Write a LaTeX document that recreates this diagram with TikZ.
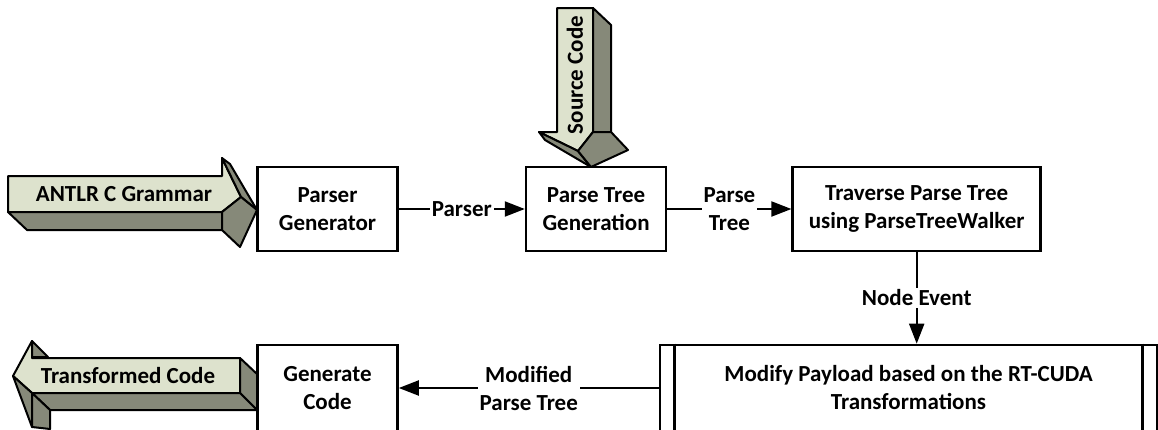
\documentclass[tikz,border=0pt]{standalone}
\usepackage{fontspec}
\setmainfont{Carlito}
\usetikzlibrary{arrows.meta,positioning}
\definecolor{sage}{RGB}{221,226,205}
\definecolor{slate}{RGB}{134,137,121}

\begin{document}
\begin{tikzpicture}[x=0.5pt, y=-0.5pt,
  font=\fontsize{11.5}{14}\selectfont\bfseries,
  box/.style={draw, line width=1.3pt, align=center, inner sep=2pt,
              minimum width=70pt, minimum height=42pt, fill=white},
  arr/.style={-{Triangle[length=10pt,width=7.5pt]}, line width=1pt},
  lbl/.style={fill=white, inner sep=1pt, align=center},
  face/.style={draw, line width=1pt, line join=round, fill=sage},
  side/.style={draw, line width=1pt, line join=round, fill=slate}]

\clip (0,0) rectangle (1158,429);

% ---------- upper row ----------
\node[box] (pg) at (327.5,209) {Parser\\Generator};
\node[box, right=63pt of pg] (ptg) {Parse Tree\\Generation};
\node[box, right=62pt of ptg, minimum width=124pt] (trav)
  {Traverse Parse Tree\\using ParseTreeWalker};

% ---------- lower row ----------
\node[box, minimum height=43pt] (gc) at (327.5,388) {Generate\\Code};
\node[box, minimum width=248.5pt, minimum height=43pt] (mod) at (908.5,388)
  {Modify Payload based on the RT-CUDA\\Transformations};
\draw[line width=1.3pt] ([xshift=8pt]mod.north west) -- ([xshift=8pt]mod.south west)
  ([xshift=-8pt]mod.north east) -- ([xshift=-8pt]mod.south east);

% ---------- flow ----------
\draw[arr] (pg) -- node[lbl] {Parser} (ptg);
\draw[arr] (ptg) -- node[lbl] {Parse\\Tree} (trav);
\draw[arr] (trav.south) -- node[lbl] {Node Event} (trav.south |- mod.north);
\draw[arr] (mod) -- node[lbl] {Modified\\Parse Tree} (gc);

% ---------- block arrows ----------
\draw[face] (8,176) -- (222,176) -- (222,158) -- (241,197) -- (222,212) -- (8,212) -- cycle;
\draw[side] (8,212) -- (222,212) -- (222,230) -- (27,230) -- cycle;
\draw[side] (222,158) -- (230,164) -- (257,210) -- (241,197) -- cycle;
\draw[side] (241,197) -- (257,210) -- (240,247) -- (222,230) -- (222,212) -- cycle;
\node (antlr) at (124,194) {ANTLR C Grammar};

\draw[face] (557,8) -- (557,132) -- (539,132) -- (578,151) -- (593,132) -- (593,8) -- cycle;
\draw[side] (593,8) -- (593,132) -- (611,132) -- (611,25) -- cycle;
\draw[side] (539,132) -- (545,140) -- (591,167) -- (578,151) -- cycle;
\draw[side] (578,151) -- (591,167) -- (628,150) -- (611,132) -- (593,132) -- cycle;
\node[rotate=90] (src) at (575,75) {Source Code};

\draw[face] (240,358) -- (32,358) -- (32,341) -- (13,376) -- (32,393) -- (240,393) -- cycle;
\draw[side] (32,341) -- (48,357) -- (32,357) -- cycle;
\draw[side] (240,358) -- (257,374) -- (257,410) -- (240,393) -- cycle;
\draw[side] (32,393) -- (240,393) -- (257,410) -- (50,410) -- cycle;
\draw[side] (13,376) -- (32,393) -- (32,427) -- cycle;
\draw[side] (32,393) -- (50,410) -- (50,429) -- (32,427) -- cycle;
\node (out) at (128,376) {Transformed Code};
\end{tikzpicture}
\end{document}
